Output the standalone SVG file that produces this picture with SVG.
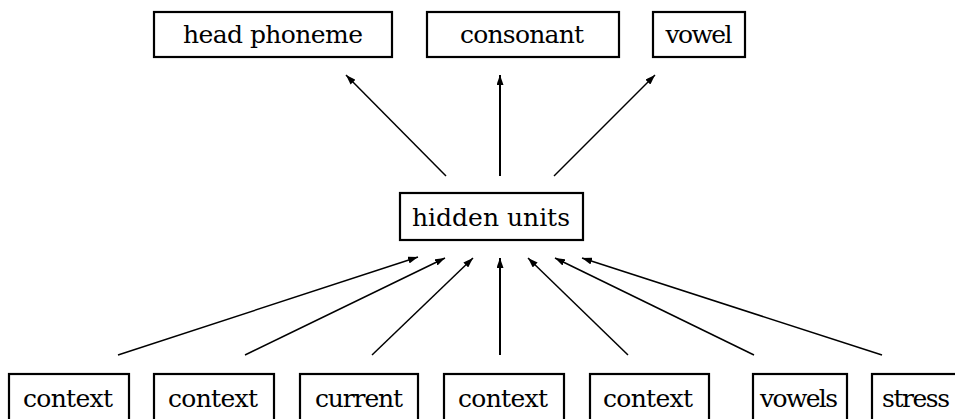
<svg xmlns="http://www.w3.org/2000/svg" width="955" height="419" viewBox="0 0 955 419">
  <defs>
    <marker id="head" markerUnits="userSpaceOnUse" markerWidth="11" markerHeight="7" refX="10" refY="3.5" orient="auto">
      <path d="M0,0 L10,3.5 L0,7 z" fill="#000"/>
    </marker>
  </defs>
  <style>
    rect { fill: #fff; stroke: #000; stroke-width: 2.2; }
    text { font-family: "DejaVu Serif", "Liberation Serif", serif; font-size: 25px; fill: #000; text-anchor: middle; }
    .edge { stroke: #000; stroke-width: 1.5; fill: none; marker-end: url(#head); }
    .edge.up { stroke-width: 2; }
  </style>
  <rect x="0" y="0" width="955" height="419" style="stroke:none;fill:#fff"/>

  <!-- output layer -->
  <g id="head-phoneme">
    <rect x="154" y="12" width="238" height="45"/>
    <text x="273" y="43" textLength="180" lengthAdjust="spacing">head phoneme</text>
  </g>
  <g id="consonant">
    <rect x="427" y="12" width="192" height="45"/>
    <text x="522" y="43" textLength="124" lengthAdjust="spacing">consonant</text>
  </g>
  <g id="vowel">
    <rect x="653" y="12" width="92" height="45"/>
    <text x="699" y="43" textLength="67" lengthAdjust="spacing">vowel</text>
  </g>

  <!-- hidden layer -->
  <g id="hidden-units">
    <rect x="400" y="193" width="183" height="47"/>
    <text x="491" y="226" textLength="158" lengthAdjust="spacing">hidden units</text>
  </g>

  <!-- input layer (boxes run past the bottom edge) -->
  <g id="context-1">
    <rect x="9" y="374" width="120" height="60"/>
    <text x="68" y="407" textLength="90" lengthAdjust="spacing">context</text>
  </g>
  <g id="context-2">
    <rect x="154" y="374" width="120" height="60"/>
    <text x="213" y="407" textLength="90" lengthAdjust="spacing">context</text>
  </g>
  <g id="current">
    <rect x="300" y="374" width="118" height="60"/>
    <text x="359" y="407" textLength="88" lengthAdjust="spacing">current</text>
  </g>
  <g id="context-3">
    <rect x="444" y="374" width="120" height="60"/>
    <text x="503" y="407" textLength="90" lengthAdjust="spacing">context</text>
  </g>
  <g id="context-4">
    <rect x="590" y="374" width="119" height="60"/>
    <text x="648" y="407" textLength="90" lengthAdjust="spacing">context</text>
  </g>
  <g id="vowels">
    <rect x="753" y="374" width="94" height="60"/>
    <text x="799" y="407" textLength="78" lengthAdjust="spacing">vowels</text>
  </g>
  <g id="stress">
    <rect x="872" y="374" width="92" height="60"/>
    <text x="916" y="407" textLength="68" lengthAdjust="spacing">stress</text>
  </g>

  <g id="connectors">
    <!-- hidden units to outputs -->
    <line class="edge" x1="446" y1="176" x2="346" y2="75"/>
    <line class="edge up" x1="500" y1="176" x2="500" y2="75"/>
    <line class="edge" x1="554" y1="176" x2="655" y2="75"/>
    <!-- inputs to hidden units -->
    <line class="edge" x1="118" y1="355" x2="418" y2="257"/>
    <line class="edge" x1="245" y1="355" x2="445" y2="258"/>
    <line class="edge" x1="372" y1="355" x2="473" y2="258"/>
    <line class="edge up" x1="500" y1="355" x2="500" y2="258"/>
    <line class="edge" x1="628" y1="355" x2="528" y2="258"/>
    <line class="edge" x1="754" y1="355" x2="555" y2="258"/>
    <line class="edge" x1="882" y1="355" x2="582" y2="258"/>
  </g>
</svg>
